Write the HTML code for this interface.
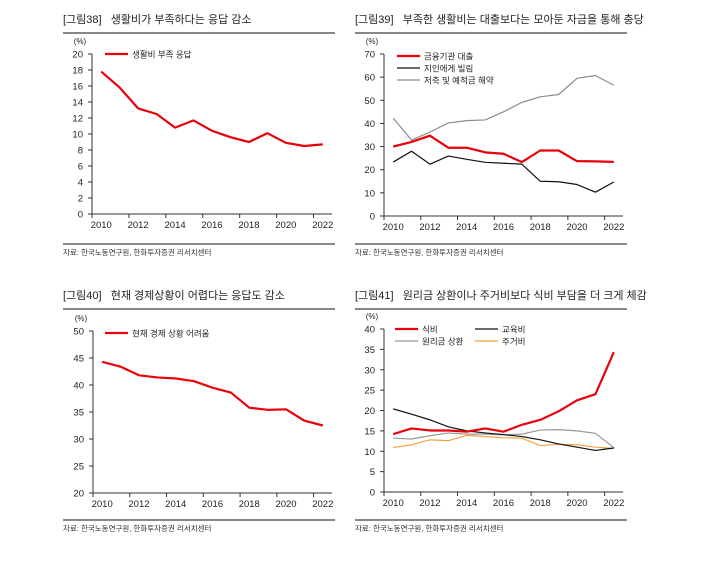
<!DOCTYPE html>
<html><head><meta charset="utf-8"><style>
body{margin:0;background:#fff;width:709px;height:558px;overflow:hidden;font-family:"Liberation Sans","Noto Sans CJK KR",sans-serif}
svg text{font-family:"Liberation Sans","Noto Sans CJK KR",sans-serif}
</style></head><body>
<svg id="s" width="709" height="558" xmlns="http://www.w3.org/2000/svg"></svg>
<script>
const years = ["2010","2011","2012","2013","2014","2015","2016","2017","2018","2019","2020","2021","2022"];
const c1Ticks = [0,2,4,6,8,10,12,14,16,18,20];
const c1Living = [17.8,15.8,13.2,12.5,10.8,11.7,10.4,9.6,9.0,10.1,8.9,8.5,8.7];
const c2Ticks = [0,10,20,30,40,50,60,70];
const c2Loan = [30,32,34.7,29.5,29.5,27.5,26.9,23.3,28.3,28.3,23.7,23.6,23.4];
const c2Borrow = [23.3,28,22.4,25.9,24.5,23.2,22.8,22.4,15,14.8,13.6,10.3,14.7];
const c2Savings = [42.3,32.8,36.3,40.2,41.2,41.5,45,49.1,51.5,52.5,59.5,60.7,56.5];
const c3Ticks = [20,25,30,35,40,45,50];
const c3Economy = [44.3,43.4,41.8,41.4,41.2,40.7,39.5,38.6,35.8,35.4,35.5,33.4,32.5];
const c4Ticks = [0,5,10,15,20,25,30,35,40];
const c4Food = [14.2,15.6,15.1,15.1,14.8,15.6,14.8,16.5,17.7,19.8,22.5,24,34.3];
const c4Edu = [20.4,19.1,17.7,16,15,14.5,14.1,13.6,12.8,11.8,11,10.2,10.8];
const c4Debt = [13.2,13,13.8,14.5,14.2,14.2,14,14.2,15.2,15.3,15,14.4,10.9];
const c4House = [10.9,11.6,12.8,12.6,13.9,13.6,13.3,13.2,11.4,11.7,11.6,11,10.7];

const NS="http://www.w3.org/2000/svg", svg=document.getElementById('s');
function mk(tag,a,parent){const e=document.createElementNS(NS,tag);for(const k in a)e.setAttribute(k,a[k]);(parent||svg).appendChild(e);return e;}
function txt(x,y,s,size,anchor,fill,parent){const t=mk('text',{x:x,y:y,'font-size':size,'text-anchor':anchor||'start',fill:fill||'#222'},parent);t.textContent=s;return t;}

function chart(o){
  const g=mk('g',{});
  
  
  const t=txt(o.tx,o.ty,o.title,11,'start','#222',g);
  
  
  mk('line',{x1:o.tx,x2:o.tx+272,y1:o.ty+10,y2:o.ty+10,stroke:'#111','stroke-width':1},g);
  mk('line',{x1:o.tx,x2:o.tx+272,y1:o.ty+221,y2:o.ty+221,stroke:'#111','stroke-width':1},g);
  const src=txt(o.tx,o.ty+232,'자료: 한국노동연구원, 한화투자증권 리서치센터',7.5,'start','#333',g);
  
  
  const cw=(o.x1-o.x0)/years.length;
  const X=i=>o.x0+cw*(i+0.5);
  const Y=v=>o.yb-(v-o.min)/(o.max-o.min)*(o.yb-o.yt);
  mk('line',{x1:o.x0,x2:o.x0,y1:o.yt,y2:o.yb,stroke:'#333','stroke-width':1},g);
  mk('line',{x1:o.x0,x2:o.x1,y1:o.yb,y2:o.yb,stroke:'#333','stroke-width':1},g);
  o.ticks.forEach(v=>{
    mk('line',{x1:o.x0-4,x2:o.x0,y1:Y(v),y2:Y(v),stroke:'#333'},g);
    const l=txt(o.x0-9,Y(v)+3.5,String(v),9.5,'end','#222',g);
    
    
  });
  txt(o.x0-12,o.yt-10,'(%)',8,'middle','#222',g);
  for(let i=0;i<=years.length;i+=2){mk('line',{x1:o.x0+cw*i,x2:o.x0+cw*i,y1:o.yb,y2:o.yb+4,stroke:'#333'},g);}
  years.forEach((y,i)=>{if(i%2===0){const l=txt(X(i),o.yb+14,y,9.5,'middle','#222',g);
    
    }});
  o.series.forEach(s=>{
    const p=mk('polyline',{points:s.data.map((v,i)=>X(i)+','+Y(v)).join(' '),fill:'none',stroke:s.color,'stroke-width':s.w,'stroke-linejoin':'round'},g);
    
    
    mk('line',{x1:s.lx,x2:s.lx+23,y1:s.ly,y2:s.ly,stroke:s.color,'stroke-width':s.w},g);
    const l=txt(s.lx+27,s.ly+3.5,s.label,8.5,'start','#222',g);
    
    
  });
}
const SP='\u00a0\u00a0\u00a0';
chart({name:'chart-38',tx:63,ty:23,title:'[그림38]'+SP+'생활비가 부족하다는 응답 감소',x0:92,x1:332,yt:54,yb:214,min:0,max:20,ticks:c1Ticks,
  series:[{data:c1Living,color:'#e8000b',w:2.2,label:'생활비 부족 응답',lx:105,ly:54}]});
chart({name:'chart-39',tx:355,ty:23,title:'[그림39]'+SP+'부족한 생활비는 대출보다는 모아둔 자금을 통해 충당',x0:384,x1:623,yt:54,yb:216,min:0,max:70,ticks:c2Ticks,
  series:[{data:c2Savings,color:'#8c8c8c',w:1.2,label:'저축 및 예적금 해약',lx:397,ly:80},
          {data:c2Borrow,color:'#111',w:1.2,label:'지인에게 빌림',lx:397,ly:68},
          {data:c2Loan,color:'#e8000b',w:2.2,label:'금융기관 대출',lx:397,ly:56}]});
chart({name:'chart-40',tx:63,ty:299,title:'[그림40]'+SP+'현재 경제상황이 어렵다는 응답도 감소',x0:93,x1:332,yt:331,yb:493,min:20,max:50,ticks:c3Ticks,
  series:[{data:c3Economy,color:'#e8000b',w:2.2,label:'현재 경제 상황 어려움',lx:105,ly:333}]});
chart({name:'chart-41',tx:355,ty:299,title:'[그림41]'+SP+'원리금 상환이나 주거비보다 식비 부담을 더 크게 체감',x0:384,x1:623,yt:329,yb:492,min:0,max:40,ticks:c4Ticks,
  series:[{data:c4Debt,color:'#999',w:1.2,label:'원리금 상환',lx:395,ly:341},
          {data:c4House,color:'#f5a142',w:1.2,label:'주거비',lx:475,ly:341},
          {data:c4Edu,color:'#111',w:1.2,label:'교육비',lx:475,ly:329},
          {data:c4Food,color:'#e8000b',w:2.2,label:'식비',lx:395,ly:329}]});
</script>
</body></html>
